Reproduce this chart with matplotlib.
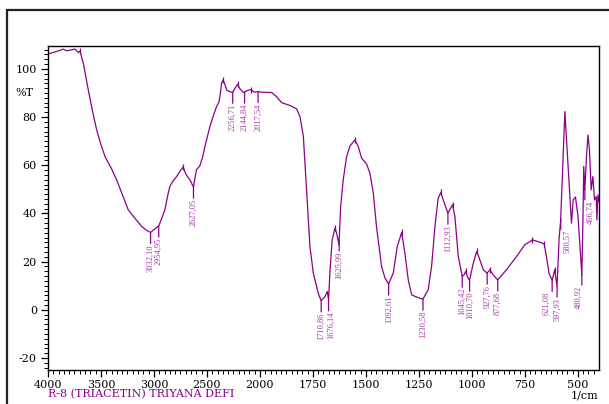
import matplotlib
matplotlib.use("Agg")
import matplotlib.pyplot as plt
import matplotlib.transforms as mtransforms
from matplotlib.patches import Rectangle
import numpy as np

# IR spectrum (wavenumber 1/cm, %T)
wavenumber = [4000, 3950, 3900, 3856, 3824, 3790, 3745, 3714, 3698, 3667,
              3620, 3580, 3541, 3500, 3462, 3400, 3352, 3300, 3243, 3180,
              3116, 3070, 3032, 2995, 2955, 2930, 2897, 2870, 2850, 2820,
              2786, 2755, 2724, 2700, 2680, 2661, 2645, 2627, 2610, 2598,
              2567, 2540, 2519, 2472, 2440, 2409, 2385, 2370, 2362, 2347,
              2330, 2315, 2290, 2257, 2235, 2211, 2190, 2158, 2145, 2120,
              2088, 2060, 2047, 2018, 1992, 1945, 1922, 1898, 1858, 1827,
              1811, 1795, 1780, 1764, 1748, 1725, 1711, 1693, 1682, 1676,
              1670, 1659, 1646, 1638, 1627, 1619, 1607, 1591, 1575, 1552,
              1536, 1520, 1497, 1481, 1465, 1450, 1426, 1410, 1393, 1371,
              1352, 1331, 1316, 1300, 1284, 1261, 1231, 1206, 1190, 1174,
              1159, 1146, 1135, 1113, 1100, 1091, 1080, 1064, 1045, 1037,
              1029, 1020, 1011, 993, 977, 962, 946, 928, 915, 899,
              878, 837, 789, 750, 714, 688, 659, 648, 636, 621,
              609, 598, 588, 581, 570, 561, 553, 541, 530, 522,
              511, 499, 481, 476, 472, 467, 459, 452, 445, 437,
              429, 421, 413, 410, 405, 400]
transmittance = [106.2, 106.8, 107.5, 108.2, 107.5, 107.8, 108.2, 106.8, 107.4, 102.4,
                 91.3, 82.5, 74.7, 68.5, 63.6, 58.5, 53.9, 48.0, 41.5, 38.0,
                 34.6, 33.0, 32.1, 33.5, 34.8, 37.5, 41.5, 47.5, 51.2, 53.5,
                 55.3, 57.5, 59.3, 56.5, 55.0, 54.0, 52.5, 50.9, 55.5, 58.1,
                 59.8, 63.5, 67.8, 76.1, 80.5, 84.4, 86.4, 91.0, 94.1, 95.4,
                 93.5, 91.3, 90.6, 90.3, 92.0, 93.6, 91.8, 90.3, 90.4, 91.0,
                 91.4, 90.6, 90.3, 90.6, 90.3, 90.2, 88.5, 86.0, 84.8, 83.4,
                 80.2, 71.9, 49.8, 26.3, 15.2, 6.9, 3.7, 5.5, 7.6, 4.1,
                 15.2, 29.0, 33.9, 31.8, 27.0, 42.9, 53.9, 63.6, 68.0, 70.5,
                 67.8, 62.9, 60.6, 56.7, 48.4, 34.6, 18.0, 13.2, 10.7, 15.2,
                 26.3, 32.1, 23.5, 12.4, 6.2, 5.3, 4.4, 8.3, 18.0, 34.6,
                 46.3, 48.7, 45.6, 40.1, 42.2, 43.6, 38.7, 22.1, 13.8, 14.5,
                 15.9, 13.6, 12.2, 19.4, 24.2, 20.7, 16.6, 15.2, 16.6, 14.5,
                 12.4, 16.6, 22.1, 27.0, 29.0, 28.3, 27.4, 22.1, 15.2, 12.2,
                 16.6, 9.7, 30.0, 37.0, 62.0, 82.3, 70.5, 52.6, 36.0, 45.6,
                 46.8, 38.7, 14.5, 36.0, 59.5, 49.8, 63.6, 72.6, 66.4, 49.8,
                 55.3, 45.6, 47.0, 37.3, 47.7, 45.0]

# peak picks printed by the instrument
peak_positions = [3032.10, 2954.95, 2627.05, 2256.71, 2144.84, 2017.54,
                  1710.86, 1676.14, 1625.99, 1392.61, 1230.58, 1112.93,
                  1045.42, 1010.70, 927.76, 877.68, 621.08, 597.93,
                  580.57, 480.92, 466.74]
peak_labels = ["3032,10", "2954,95", "2627,05", "2256,71", "2144,84", "2017,54",
               "1710,86", "1676,14", "1625,99", "1392,61", "1230,58", "1112,93",
               "1045,42", "1010,70", "927,76", "877,68", "621,08", "597,93",
               "580,57", "480,92", "466,74"]
# small tick marks on the maxima
max_marks = [3698, 2724, 2347, 2211, 2088, 1646, 1552, 1331, 1146, 1091,
             1029, 977, 915, 714, 659, 609]

x_ticks = [4000, 3500, 3000, 2500, 2000, 1750, 1500, 1250, 1000, 750, 500]
y_ticks = [-20, 0, 20, 40, 60, 80, 100]

purple = "#8b008b"
label_purple = "#a23ca6"
serif = ["DejaVu Serif"]


# the instrument doubles the x scale below 2000 1/cm
def fwd(x):
    x = np.asarray(x, dtype=float)
    return np.where(x > 2000, 2000 + (x - 2000) / 2.0, x)


def inv(t):
    t = np.asarray(t, dtype=float)
    return np.where(t > 2000, 2000 + (t - 2000) * 2.0, t)


fig = plt.figure(figsize=(6.09, 4.04), dpi=100)
ax = fig.add_axes([48 / 609, 1 - 370 / 404, 551 / 609, 324 / 404])

# outer page frame (clipped by the image edge on the right and bottom)
fig.add_artist(Rectangle((7 / 609, -0.2), 1.2, 0.2 + (1 - 10 / 404),
                         transform=fig.transFigure, fill=False,
                         lw=1.6, ec="#222222"))

ax.set_xscale("function", functions=(fwd, inv))
ax.set_xlim(4000, 400)
ax.set_ylim(-25, 109.5)

wn = np.array(wavenumber)
tr = np.array(transmittance)
ax.plot(wn, tr, color=purple, lw=0.9)

# maxima marks
order = np.argsort(wn)
mark_y = np.interp(max_marks, wn[order], tr[order])
ax.plot(max_marks, mark_y, ls="none", marker="|", ms=5, mew=0.9, color=purple)

# peak labels with leaders
label_dx = {"621,08": -4, "580,57": 5, "480,92": -2, "466,74": 4, "1676,14": 2}
peak_y = np.interp(peak_positions, wn[order], tr[order])
for xp, yp, lab in zip(peak_positions, peak_y, peak_labels):
    dx = label_dx.get(lab, 0)
    ax.annotate("", xy=(xp, yp), xytext=(0, -8), textcoords="offset points",
                arrowprops=dict(arrowstyle="-", color=purple, lw=0.9,
                                shrinkA=0, shrinkB=0))
    ax.annotate(lab, xy=(xp, yp), xytext=(dx, -8.5), textcoords="offset points",
                rotation=90, ha="center", va="top", fontsize=6,
                family=["Liberation Serif"], color=label_purple)

# ticks
ax.set_xticks(x_ticks)
ax.set_xticklabels([str(v) for v in x_ticks], family=serif, fontsize=8)
minor_x = list(np.arange(4000, 2000, -50)) + list(np.arange(2000, 400, -25))
ax.set_xticks(minor_x, minor=True)
ax.set_yticks(y_ticks)
ax.set_yticklabels([str(v) for v in y_ticks], family=serif, fontsize=8)
ax.set_yticks(np.arange(-24, 109, 2), minor=True)
ax.tick_params(which="major", direction="out", length=5, width=0.9, pad=2)
ax.tick_params(which="minor", direction="out", length=3, width=0.7)
ax.tick_params(axis="y", which="major", pad=3)

for s in ax.spines.values():
    s.set_linewidth(1.0)

ax.text(-0.027, 89.8, "%T",
        transform=mtransforms.blended_transform_factory(ax.transAxes, ax.transData),
        ha="right", va="center", fontsize=8, family=serif)
fig.text(48 / 609, 1 - 394 / 404, "R-8 (TRIACETIN) TRIYANA DEFI", ha="left", va="center",
         fontsize=8, family=serif, color=purple)
fig.text(598 / 609, 1 - 395 / 404, "1/cm", ha="right", va="center",
         fontsize=8, family=serif)

fig.savefig("out.png", dpi=100)
